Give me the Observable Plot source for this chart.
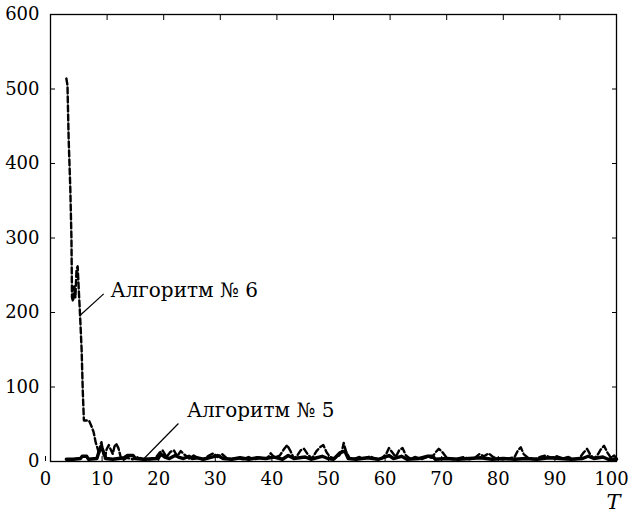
<!DOCTYPE html>
<html>
<head>
<meta charset="utf-8">
<script src="https://cdn.jsdelivr.net/npm/d3@7"></script>
<script src="https://cdn.jsdelivr.net/npm/@observablehq/plot@0.6"></script>
<style>
  html, body { margin: 0; padding: 0; background: #fff; }
</style>
</head>
<body>
<div id="chart"></div>
<script>
// Algorithm No 6 (dashed)
const t6 = [2.8, 3.0, 3.2, 3.5, 3.7, 3.8, 4.0, 4.2, 4.4, 4.6,
            4.8, 5.0, 5.2, 5.5, 5.7, 5.9, 6.8, 7.2, 7.6, 8.0,
            8.3, 8.6, 8.8, 9.0, 9.3, 9.6, 9.9, 10.3, 10.7, 11.0,
            11.3, 11.6, 12.0, 12.4, 12.8, 13.5, 14.5, 15.5, 16.5, 17.5,
            18.5, 19.3, 19.8, 20.5, 21.2, 21.8, 22.4, 23.0, 23.7, 24.5,
            25.3, 26.2, 27.0, 28.0, 28.8, 29.5, 30.3, 31.2, 32.0, 33.0,
            34.0, 35.0, 36.0, 37.0, 38.3, 38.9, 39.6, 40.5, 41.2, 41.8,
            42.4, 43.0, 43.6, 44.2, 44.8, 45.5, 46.2, 47.0, 47.6, 48.2,
            48.8, 49.4, 50.2, 51.0, 51.5, 51.8, 52.2, 52.8, 53.5, 54.5,
            55.5, 56.5, 57.5, 58.5, 59.3, 59.8, 60.4, 61.0, 61.6, 62.2,
            62.8, 63.5, 64.5, 65.5, 66.5, 67.4, 68.0, 68.6, 69.2, 70.0,
            71.0, 72.0, 73.0, 74.0, 75.0, 75.8, 76.6, 77.4, 78.2, 79.0,
            80.0, 81.0, 82.0, 82.6, 83.1, 83.6, 84.5, 85.5, 86.5, 87.5,
            88.5, 89.5, 90.5, 91.5, 92.5, 93.5, 94.2, 94.8, 95.4, 96.0,
            96.6, 97.2, 97.8, 98.4, 99.0, 99.6, 100];
const v6 = [514, 505, 435, 366, 300, 220, 215, 235, 220, 258,
            262, 230, 200, 150, 95, 55, 55, 48, 40, 25,
            18, 10, 22, 26, 12, 4, 16, 22, 15, 10,
            20, 24, 18, 6, 2, 5, 3, 6, 2, 3,
            4, 12, 15, 6, 13, 15, 7, 14, 9, 4,
            8, 4, 3, 8, 11, 6, 10, 4, 3, 5,
            3, 6, 3, 5, 4, 11, 5, 8, 16, 22,
            14, 4, 8, 15, 17, 9, 4, 14, 19, 22,
            12, 6, 4, 8, 14, 25, 14, 5, 3, 6,
            4, 7, 3, 4, 10, 18, 12, 6, 15, 18,
            8, 4, 6, 3, 6, 5, 12, 17, 13, 5,
            3, 4, 6, 3, 5, 10, 7, 11, 6, 4,
            3, 4, 6, 15, 19, 10, 4, 3, 6, 8,
            5, 7, 4, 6, 3, 5, 12, 17, 9, 4,
            8, 16, 21, 12, 5, 8, 4];

// Algorithm No 5 (solid)
const t5 = [2.8, 4, 5.3, 5.6, 6.4, 6.7, 8.2, 8.6, 9.0, 9.4,
            9.8, 11, 12, 13, 13.6, 14.6, 15, 16.5, 19, 19.5,
            20.2, 21, 22, 22.6, 23.5, 24.5, 25, 26, 27, 28.5,
            29.5, 30.5, 32, 33.5, 35, 36.5, 38, 39.5, 41, 42,
            43, 45, 46, 48, 49, 50, 51.2, 52.0, 52.6, 54,
            56, 58, 59.8, 60.6, 62, 63, 65, 66.5, 67.5, 68,
            70, 72, 74, 76, 78, 80, 82, 84, 86, 88,
            90, 92, 94, 95, 96, 97.6, 98.5, 100];
const v5 = [3, 3, 4, 7, 7, 3, 4, 14, 20, 12,
            4, 3, 4, 5, 8, 8, 4, 3, 4, 10,
            6, 4, 8, 6, 4, 7, 4, 5, 3, 6,
            8, 4, 3, 5, 3, 5, 4, 6, 3, 8,
            4, 6, 3, 7, 4, 3, 12, 14, 4, 3,
            5, 3, 8, 4, 7, 3, 4, 7, 7, 3,
            4, 3, 4, 5, 3, 4, 3, 4, 3, 5,
            4, 3, 4, 7, 4, 6, 3, 3];

const xTicks = [0, 10, 20, 30, 40, 50, 60, 70, 80, 90, 100];
const yTicks = [0, 100, 200, 300, 400, 500, 600];

// annotations: label text, label position, leader line start/end
const labels = ["Алгоритм № 6", "Алгоритм № 5"];
const labelX = [10.6, 24.1];
const labelY = [229, 68];
const leadX1 = [9.4, 22.6];
const leadY1 = [225, 51];
const leadX2 = [5.2, 16.4];
const leadY2 = [196, 3];
const axisName = ["T"];

const s6 = t6.map((t, i) => ({t, v: v6[i]}));
const s5 = t5.map((t, i) => ({t, v: v5[i]}));
const ann = labels.map((s, i) => ({s, x: labelX[i], y: labelY[i], x1: leadX1[i], y1: leadY1[i], x2: leadX2[i], y2: leadY2[i]}));

const serif = "DejaVu Serif";

const chart = Plot.plot({
  width: 629,
  height: 516,
  marginLeft: 50,
  marginRight: 13,
  marginTop: 14,
  marginBottom: 55,
  style: {fontFamily: serif, fontSize: "18px", color: "black", background: "white"},
  x: {domain: [0, 100]},
  y: {domain: [0, 600]},
  marks: [
    Plot.axisX({anchor: "bottom", ticks: xTicks, tickSize: -5, tickPadding: 16, dx: -5, label: null, tickFormat: d => String(d)}),
    Plot.axisX({anchor: "top", ticks: xTicks, tickSize: -5, label: null, tickFormat: () => ""}),
    Plot.axisY({anchor: "left", ticks: yTicks, tickSize: -5, tickPadding: 16, label: null, tickFormat: d => String(d)}),
    Plot.axisY({anchor: "right", ticks: yTicks, tickSize: -5, label: null, tickFormat: () => ""}),
    Plot.line(s5, {x: "t", y: "v", stroke: "black", strokeWidth: 3.4}),
    Plot.line(s6, {x: "t", y: "v", stroke: "black", strokeWidth: 2.4, strokeDasharray: "6,3"}),
    Plot.link(ann, {x1: "x1", y1: "y1", x2: "x2", y2: "y2", stroke: "black", strokeWidth: 1.2}),
    Plot.text(ann, {x: "x", y: "y", text: "s", textAnchor: "start", lineAnchor: "middle", fontSize: 20, fill: "black"}),
    Plot.text(axisName, {text: d => d, frameAnchor: "bottom-right", textAnchor: "end", lineAnchor: "middle", dx: 4, dy: 41, fontStyle: "italic", fontSize: 21, fill: "black"}),
    Plot.frame({stroke: "black", strokeWidth: 1.3})
  ]
});
document.getElementById("chart").appendChild(chart);
</script>
</body>
</html>
